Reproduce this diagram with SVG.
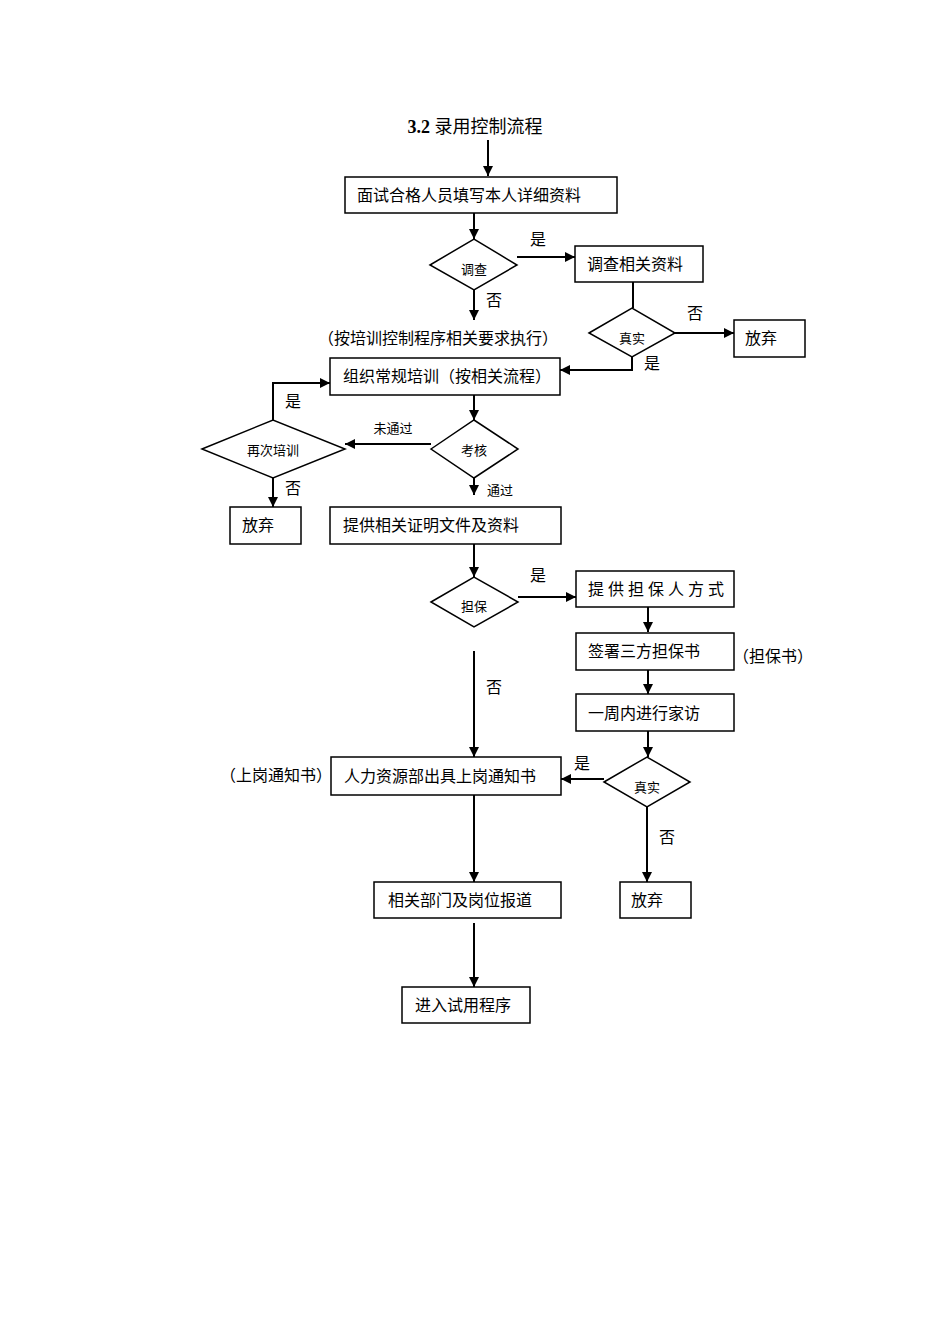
<svg xmlns="http://www.w3.org/2000/svg" width="950" height="1344" viewBox="0 0 950 1344">
<style>
.b{fill:#fff;stroke:#000;stroke-width:1.5}
.l{fill:none;stroke:#000;stroke-width:2}
text{font-family:"Liberation Serif","Noto Sans CJK SC",serif;font-size:16px;fill:#000}
.s{font-size:13px}
.m{text-anchor:middle}
</style>
<defs><marker id="a" viewBox="0 0 10 10" refX="10" refY="5" markerWidth="5" markerHeight="5" orient="auto"><path d="M0,0L10,5L0,10z"/></marker></defs>
<rect width="950" height="1344" fill="#fff"/>
<text x="475" y="133" class="m" style="font-size:18px"><tspan font-weight="bold">3.2</tspan> 录用控制流程</text>
<g id="connectors">
<path class="l" d="M488,140V176" marker-end="url(#a)"/>
<path class="l" d="M474,213V239" marker-end="url(#a)"/>
<path class="l" d="M517,257H575" marker-end="url(#a)"/>
<path class="l" d="M633,282V308"/>
<path class="l" d="M675,333H734" marker-end="url(#a)"/>
<path class="l" d="M632,357V370H560" marker-end="url(#a)"/>
<path class="l" d="M474,290V320" marker-end="url(#a)"/>
<path class="l" d="M474,395V420" marker-end="url(#a)"/>
<path class="l" d="M273,420V383H330" marker-end="url(#a)"/>
<path class="l" d="M431,444H345" marker-end="url(#a)"/>
<path class="l" d="M474,478V495" marker-end="url(#a)"/>
<path class="l" d="M273,478V507" marker-end="url(#a)"/>
<path class="l" d="M474,544V577" marker-end="url(#a)"/>
<path class="l" d="M518,597H576" marker-end="url(#a)"/>
<path class="l" d="M648,607V632" marker-end="url(#a)"/>
<path class="l" d="M648,670V694" marker-end="url(#a)"/>
<path class="l" d="M648,731V757" marker-end="url(#a)"/>
<path class="l" d="M604,779H561" marker-end="url(#a)"/>
<path class="l" d="M474,651V757" marker-end="url(#a)"/>
<path class="l" d="M474,795V882" marker-end="url(#a)"/>
<path class="l" d="M647,807V882" marker-end="url(#a)"/>
<path class="l" d="M474,923V987" marker-end="url(#a)"/>
<text x="538" y="245" class="m">是</text>
<text x="695" y="319" class="m">否</text>
<text x="652" y="369" class="m">是</text>
<text x="494" y="306" class="m">否</text>
<text x="293" y="407" class="m">是</text>
<text x="393" y="433" class="m s">未通过</text>
<text x="500" y="495" class="m s">通过</text>
<text x="293" y="494" class="m">否</text>
<text x="538" y="581" class="m">是</text>
<text x="494" y="693" class="m">否</text>
<text x="582" y="769" class="m">是</text>
<text x="667" y="843" class="m">否</text>
<text x="438" y="344" class="m">（按培训控制程序相关要求执行）</text>
<text x="773" y="662" class="m">（担保书）</text>
<text x="276" y="781" class="m">（上岗通知书）</text>
</g>
<g id="n1"><rect class="b" x="345" y="177" width="272" height="36"/><text x="357" y="201">面试合格人员填写本人详细资料</text></g>
<g id="d1"><path class="b" d="M430,265L474,239L517,265L474,290z"/><text x="474" y="274" class="m s">调查</text></g>
<g id="n2"><rect class="b" x="575" y="246" width="128" height="36"/><text x="587" y="270">调查相关资料</text></g>
<g id="d2"><path class="b" d="M589,333L632,308L675,333L632,357z"/><text x="632" y="343" class="m s">真实</text></g>
<g id="n3"><rect class="b" x="734" y="320" width="71" height="37"/><text x="745" y="344">放弃</text></g>
<g id="n4"><rect class="b" x="330" y="358" width="230" height="37"/><text x="343" y="382">组织常规培训（按相关流程）</text></g>
<g id="d3"><path class="b" d="M202,449L273,420L345,449L273,478z"/><text x="273" y="455" class="m s">再次培训</text></g>
<g id="d4"><path class="b" d="M431,449L474,420L518,449L474,478z"/><text x="474" y="455" class="m s">考核</text></g>
<g id="n5"><rect class="b" x="230" y="507" width="71" height="37"/><text x="242" y="531">放弃</text></g>
<g id="n6"><rect class="b" x="330" y="507" width="231" height="37"/><text x="343" y="531">提供相关证明文件及资料</text></g>
<g id="d5"><path class="b" d="M431,602L474,577L518,602L474,627z"/><text x="474" y="611" class="m s">担保</text></g>
<g id="n7"><rect class="b" x="576" y="571" width="158" height="36"/><text x="588" y="595" letter-spacing="4">提供担保人方式</text></g>
<g id="n8"><rect class="b" x="576" y="633" width="158" height="37"/><text x="588" y="657">签署三方担保书</text></g>
<g id="n9"><rect class="b" x="576" y="694" width="158" height="37"/><text x="588" y="719">一周内进行家访</text></g>
<g id="d6"><path class="b" d="M604,782L647,757L690,782L647,807z"/><text x="647" y="792" class="m s">真实</text></g>
<g id="n10"><rect class="b" x="331" y="757" width="230" height="38"/><text x="344" y="782">人力资源部出具上岗通知书</text></g>
<g id="n11"><rect class="b" x="374" y="882" width="187" height="36"/><text x="388" y="906">相关部门及岗位报道</text></g>
<g id="n12"><rect class="b" x="620" y="882" width="71" height="36"/><text x="631" y="906">放弃</text></g>
<g id="n13"><rect class="b" x="402" y="987" width="128" height="36"/><text x="415" y="1011">进入试用程序</text></g>
</svg>
